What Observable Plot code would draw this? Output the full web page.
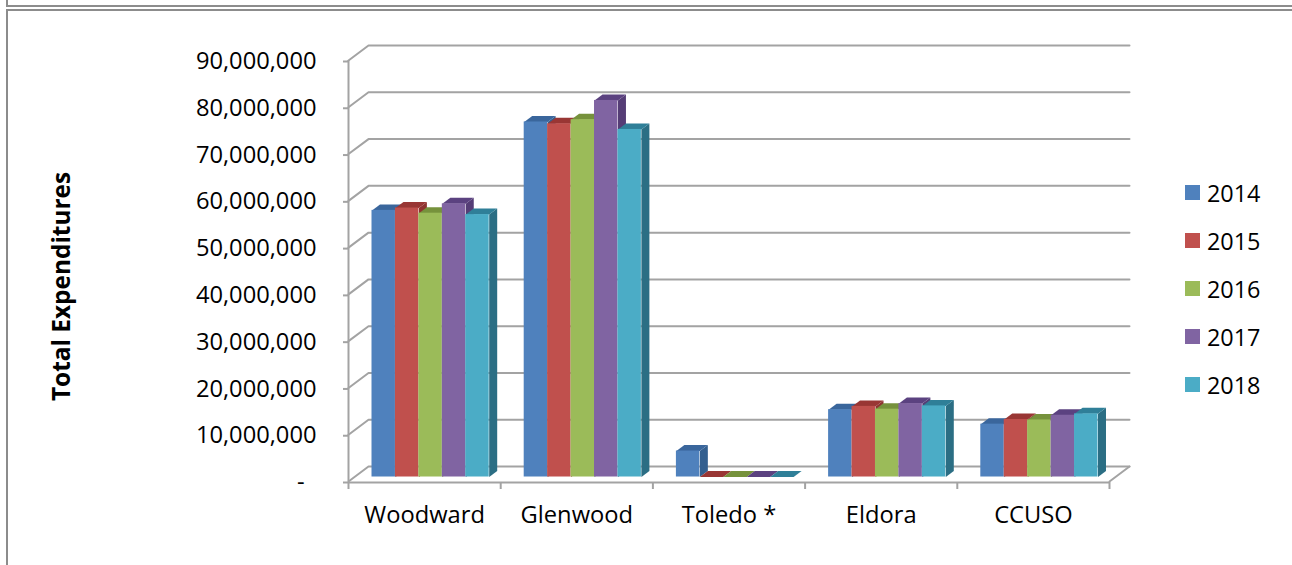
<!DOCTYPE html>
<html>
<head>
<meta charset="utf-8">
<script src="https://cdn.jsdelivr.net/npm/d3@7"></script>
<script src="https://cdn.jsdelivr.net/npm/@observablehq/plot@0.6"></script>
<style>
  html, body { margin: 0; padding: 0; background: #fff; width: 1292px; height: 565px; overflow: hidden; }
  #stage { position: relative; width: 1292px; height: 565px; font-family: "Open Sans", sans-serif; }
  #stage svg { position: absolute; left: 0; top: 0; }
  .rule-top { position: absolute; left: 6px; right: 0; top: 0; height: 5px; border: solid #8c8c8c; border-width: 0 0 2px 2px; }
  .box { position: absolute; left: 6px; right: 0; top: 9px; bottom: -3px; border: solid #8c8c8c; border-width: 2px 0 0 2px; }
  #legend { position: absolute; left: 1185px; top: 168.5px; font-size: 23.4px; color: #000; }
  #legend div { display: flex; align-items: center; height: 48px; }
  #legend i { display: block; width: 15px; height: 15px; margin-right: 7px; }
</style>
</head>
<body>
<div id="stage">
  <div class="rule-top"></div>
  <div class="box"></div>
</div>
<script>
const facilities = ["Woodward", "Glenwood", "Toledo *", "Eldora", "CCUSO"];
const years = [2014, 2015, 2016, 2017, 2018];
const expenditures2014 = [57000000, 75900000, 5550000, 14400000, 11300000];
const expenditures2015 = [57500000, 75500000, 0, 15100000, 12300000];
const expenditures2016 = [56400000, 76400000, 0, 14500000, 12200000];
const expenditures2017 = [58400000, 80500000, 0, 15700000, 13200000];
const expenditures2018 = [56100000, 74300000, 0, 15200000, 13500000];
const seriesByYear = [expenditures2014, expenditures2015, expenditures2016, expenditures2017, expenditures2018];
const yTicks = d3.range(0, 90000001, 10000000);

const frontColors = ["#4f81bd", "#c0504d", "#9bbb59", "#8064a2", "#4bacc6"];
const topColors = ["#3a669c", "#993634", "#76923c", "#5b4280", "#2f7f98"];
const sideColors = ["#335f8f", "#8e3330", "#6f8a38", "#553d76", "#2b6e84"];

// Oblique projection: one unit of depth moves a point right along x and up along y.
const depthX = 0.1314;
const depthY = 3200000;
const project = (x, v, d) => ({x: x + d * depthX, y: v + d * depthY});

// Bars sit between these two depths inside the unit-deep chart box.
const barFront = 0.3;
const barBack = 0.7;
const barWidth = 0.154;
const groupInset = (1 - barWidth * years.length) / 2;

const bars = facilities.flatMap((name, c) => years.map((year, s) => {
  const x1 = c + groupInset + s * barWidth;
  return {name, year, s, value: seriesByYear[s][c], x1, x2: x1 + barWidth};
}));

// Top and side faces, in paint order from left to right.
const faces = bars.flatMap((b, i) => {
  const polygon = (kind, fill, corners) =>
    corners.map(([x, v, d]) => ({id: `${i}-${kind}`, fill, ...project(x, v, d)}));
  return [
    ...polygon("side", sideColors[b.s], [
      [b.x2, 0, barFront], [b.x2, 0, barBack], [b.x2, b.value, barBack], [b.x2, b.value, barFront]
    ]),
    ...polygon("top", topColors[b.s], [
      [b.x1, b.value, barFront], [b.x2, b.value, barFront], [b.x2, b.value, barBack], [b.x1, b.value, barBack]
    ])
  ];
});

// Gridlines run from the left edge, back along the side wall, then across the back wall.
const wall = yTicks.flatMap(v => [
  {id: v, ...project(0, v, 0)},
  {id: v, ...project(0, v, 1)},
  {id: v, ...project(facilities.length, v, 1)}
]);
const floorEdge = [project(facilities.length, 0, 0), project(facilities.length, 0, 1)];

const gray = "#a3a3a3";
const chart = Plot.plot({
  width: 1292,
  height: 565,
  marginLeft: 348,
  marginRight: 183,
  marginTop: 60,
  marginBottom: 84,
  style: {fontFamily: "'Open Sans', sans-serif", fontSize: "23.7px", background: "transparent", overflow: "visible"},
  x: {domain: [0, facilities.length]},
  y: {domain: [0, 90000000]},
  color: {domain: years, range: frontColors},
  marks: [
    Plot.line(wall, {x: "x", y: "y", z: "id", stroke: gray, strokeWidth: 2}),
    Plot.line(floorEdge, {x: "x", y: "y", stroke: gray, strokeWidth: 2}),
    Plot.ruleX([0], {stroke: gray, strokeWidth: 2}),
    Plot.ruleY([0], {stroke: gray, strokeWidth: 2, dy: 1}),
    Plot.axisY({
      ticks: yTicks.filter(v => v > 0), tickSize: 5, tickPadding: 27, stroke: gray, strokeWidth: 2,
      fill: "#000", tickFormat: d3.format(","), label: null, dy: 1
    }),
    Plot.axisY({
      ticks: [0], tickSize: 5, tickPadding: 39, stroke: gray, strokeWidth: 2,
      fill: "#000", tickFormat: () => "-", label: null, dy: 1
    }),
    Plot.axisX({
      ticks: d3.range(0, facilities.length + 1), tickSize: 7, stroke: gray, strokeWidth: 2,
      tickFormat: () => "", label: null, dy: 1
    }),
    Plot.axisX({
      ticks: facilities.map((_, c) => c + 0.5), tickSize: 0, tickPadding: 25, fill: "#000",
      tickFormat: x => facilities[Math.floor(x)], label: null
    }),
    Plot.line(faces, {x: "x", y: "y", z: "id", fill: "fill", stroke: "none"}),
    Plot.rect(bars, {
      x1: b => b.x1 + barFront * depthX,
      x2: b => b.x2 + barFront * depthX,
      y1: () => barFront * depthY,
      y2: b => b.value + barFront * depthY,
      fill: "year",
      inset: 0
    }),
    Plot.text(["Total Expenditures"], {
      frameAnchor: "left", dx: -286, dy: 130, rotate: -90,
      fontWeight: "bold", fontSize: 24.4, fill: "#000"
    })
  ]
});

const stage = document.getElementById("stage");
stage.appendChild(chart);

// Legend keyed off the chart's own colour scale, placed to the right of the plot.
const colorScale = chart.scale("color");
const legend = d3.select(stage).append("div").attr("id", "legend");
const rows = legend.selectAll("div").data(years).join("div");
rows.append("i").style("background", d => colorScale.apply(d));
rows.append("span").text(d => d);
</script>
</body>
</html>
